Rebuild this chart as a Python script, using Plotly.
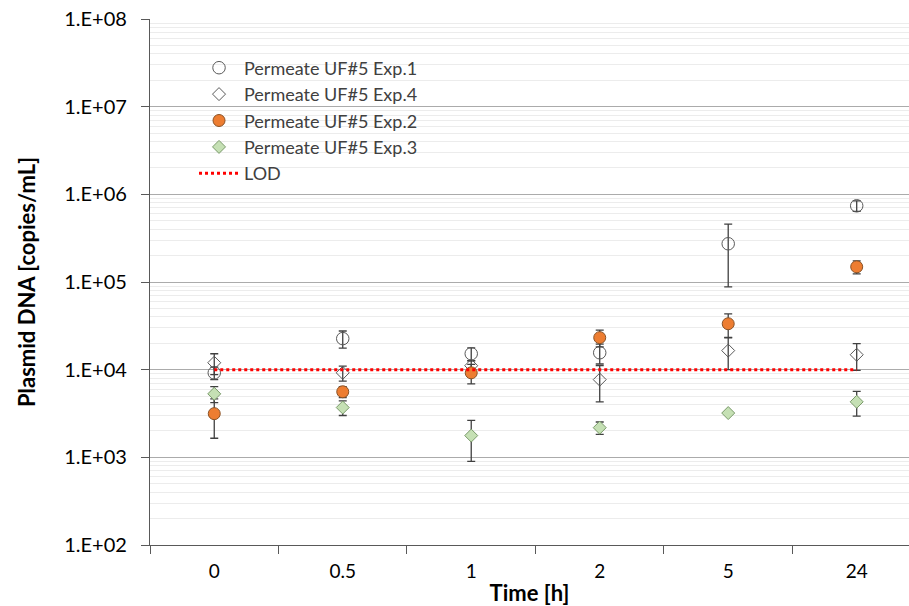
import plotly.graph_objects as go

categories = ["0", "0.5", "1", "2", "5", "24"]

exp1 = [9.2e3, 2.26e4, 1.52e4, 1.56e4, 2.73e5, 7.4e5]
exp1_err = [1.5e3, 5.0e3, 2.5e3, 4.0e3, 1.85e5, 1.0e5]

exp4 = [1.2e4, 9.2e3, 1.11e4, 7.7e3, 1.65e4, 1.48e4]
exp4_err = [3.2e3, 1.8e3, 1.5e3, 3.4e3, 6.5e3, 5.0e3]

exp2 = [3.15e3, 5.6e3, 9.2e3, 2.32e4, 3.34e4, 1.49e5]
exp2_err = [1.5e3, 0.8e3, 2.3e3, 5.0e3, 1.0e4, 2.5e4]

exp3 = [5.3e3, 3.7e3, 1.77e3, 2.18e3, 3.2e3, 4.3e3]
exp3_err = [1.1e3, 0.7e3, 0.87e3, 0.35e3, 0.1e3, 1.35e3]

lod = [1e4] * 6

ytickvals = [1e2, 1e3, 1e4, 1e5, 1e6, 1e7, 1e8]
yticktext = ["1.E+02", "1.E+03", "1.E+04", "1.E+05", "1.E+06", "1.E+07", "1.E+08"]

FONT = "Lato"
ERR = dict(color="#404040", thickness=1.3, width=4)

fig = go.Figure()

def add(name, y, err, symbol, fill, line, size):
    fig.add_trace(go.Scatter(
        x=categories, y=y, name=name, mode="markers", legendgroup=name,
        marker=dict(symbol=symbol, size=size, color=fill,
                    line=dict(color=line, width=1)),
        error_y=dict(type="data", array=err, visible=True, **ERR),
    ))

add("Permeate UF#5 Exp.1", exp1, exp1_err, "circle", "rgba(255,255,255,0)", "#595959", 12.5)
add("Permeate UF#5 Exp.4", exp4, exp4_err, "diamond", "rgba(255,255,255,0)", "#595959", 10)
add("Permeate UF#5 Exp.2", exp2, exp2_err, "circle", "#ED7D31", "#8a5226", 12)
add("Permeate UF#5 Exp.3", exp3, exp3_err, "diamond", "#C5E0B4", "#7a9a6a", 10)

fig.add_trace(go.Scatter(
    x=categories, y=lod, name="LOD", mode="lines", legendgroup="LOD",
    line=dict(color="#FF0000", width=3, dash="dot"),
))

fig.update_layout(
    width=909, height=606,
    margin=dict(l=150, r=0, t=19, b=61),
    paper_bgcolor="white", plot_bgcolor="white",
    font=dict(family=FONT, color="#000000", size=20),
    showlegend=True,
    legend=dict(x=0.058, y=0.942, xanchor="left", yanchor="top",
                bgcolor="rgba(0,0,0,0)", font=dict(size=18, color="#404040"),
                tracegroupgap=0, itemwidth=40),
    xaxis=dict(
        type="category", range=[-0.5, 5.407],
        tickson="boundaries", ticks="outside", ticklen=8, tickcolor="#595959",
        showline=True, linecolor="#595959", linewidth=1.3,
        showgrid=False, ticklabelstandoff=9,
        title=dict(text="<b>Time [h]</b>", font=dict(size=22), standoff=4),
        tickfont=dict(size=19),
    ),
    yaxis=dict(
        type="log", range=[2, 8],
        tickvals=ytickvals, ticktext=yticktext,
        ticks="outside", ticklen=8, tickcolor="#595959",
        showline=True, linecolor="#595959", linewidth=1.3,
        showgrid=True, gridcolor="#ababab", gridwidth=1.3,
        minor=dict(showgrid=True, gridcolor="#ececec", gridwidth=1, dtick="D1"),
        ticklabelstandoff=10,
        title=dict(text="<b>Plasmid DNA [copies/mL]</b>", font=dict(size=22), standoff=22),
        tickfont=dict(size=20),
        zeroline=False,
    ),
)

fig.write_html("out.html")
